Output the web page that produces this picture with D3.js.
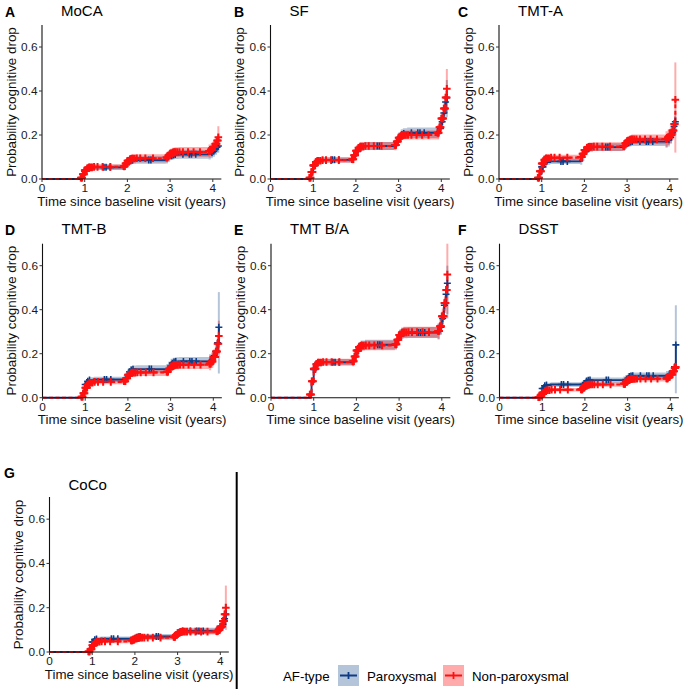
<!DOCTYPE html>
<html><head><meta charset="utf-8">
<script src="https://cdn.jsdelivr.net/npm/d3@7"></script>
<style>body{margin:0;background:#fff}svg{display:block;font-family:"Liberation Sans",Arial,sans-serif}</style>
</head><body><svg id="c" width="687" height="689"></svg>
<script>
// ---------- data ----------
const times = [0, 0.9, 0.95, 1.0, 1.05, 1.1, 1.2, 1.9, 1.95, 2.0, 2.05, 2.1, 2.2, 2.9, 2.95, 3.0, 3.05, 3.1, 3.2, 3.9, 3.95, 4.0, 4.05, 4.1, 4.13];
const stageOf = [0,1,1,1,1,1,1,2,2,2,2,2,2,3,3,3,3,3,3,4,4,4,4,4,4];
const letters = ["A","B","C","D","E","F","G"];
const titles = ["MoCA","SF","TMT-A","TMT-B","TMT B/A","DSST","CoCo"];
const xTicks = [0,1,2,3,4];
const yTicks = [0,0.2,0.4,0.6];
const groups = ["Paroxysmal","Non-paroxysmal"];

const parA = [0,0.004,0.018,0.036,0.047,0.051,0.053,0.056,0.066,0.077,0.083,0.085,0.086,0.09,0.098,0.106,0.109,0.111,0.112,0.114,0.119,0.126,0.135,0.145,0.15];
const nonA = [0,0.006,0.022,0.040,0.049,0.053,0.055,0.058,0.07,0.083,0.09,0.093,0.094,0.098,0.107,0.116,0.12,0.122,0.123,0.127,0.134,0.145,0.16,0.175,0.19];
const parB = [0,0.005,0.03,0.06,0.076,0.083,0.087,0.09,0.105,0.125,0.14,0.147,0.15,0.155,0.17,0.19,0.202,0.207,0.21,0.215,0.23,0.26,0.3,0.35,0.37];
const nonB = [0,0.006,0.032,0.062,0.077,0.083,0.086,0.09,0.108,0.128,0.142,0.148,0.15,0.155,0.17,0.188,0.197,0.2,0.2,0.21,0.235,0.275,0.32,0.37,0.41];
const parC = [0,0.005,0.025,0.055,0.07,0.077,0.08,0.083,0.1,0.125,0.138,0.143,0.145,0.148,0.158,0.165,0.168,0.17,0.17,0.172,0.178,0.19,0.21,0.24,0.26];
const nonC = [0,0.006,0.035,0.07,0.088,0.094,0.097,0.1,0.115,0.132,0.142,0.146,0.147,0.15,0.162,0.172,0.177,0.18,0.18,0.182,0.19,0.2,0.22,0.25,0.36];
const parD = [0,0.005,0.03,0.06,0.075,0.081,0.083,0.086,0.1,0.118,0.126,0.129,0.13,0.133,0.145,0.157,0.162,0.164,0.165,0.168,0.175,0.19,0.21,0.25,0.32];
const nonD = [0,0.004,0.02,0.045,0.06,0.068,0.072,0.075,0.088,0.104,0.111,0.114,0.115,0.118,0.13,0.142,0.147,0.149,0.15,0.155,0.165,0.185,0.21,0.245,0.28];
const parE = [0,0.012,0.07,0.128,0.15,0.158,0.161,0.165,0.185,0.213,0.23,0.238,0.241,0.246,0.264,0.283,0.292,0.295,0.296,0.3,0.32,0.36,0.42,0.47,0.52];
const nonE = [0,0.014,0.075,0.132,0.153,0.16,0.162,0.166,0.187,0.215,0.23,0.236,0.238,0.243,0.263,0.285,0.294,0.297,0.298,0.303,0.325,0.37,0.43,0.49,0.56];
const parF = [0,0.004,0.02,0.042,0.054,0.058,0.06,0.061,0.068,0.076,0.079,0.08,0.08,0.082,0.089,0.096,0.099,0.1,0.1,0.101,0.105,0.11,0.12,0.14,0.24];
const nonF = [0,0.002,0.01,0.022,0.03,0.034,0.036,0.038,0.046,0.055,0.059,0.06,0.06,0.063,0.072,0.08,0.084,0.085,0.086,0.088,0.094,0.105,0.12,0.135,0.14];
const parG = [0,0.004,0.022,0.045,0.055,0.059,0.06,0.061,0.064,0.067,0.069,0.07,0.07,0.072,0.08,0.089,0.093,0.095,0.095,0.097,0.102,0.11,0.125,0.15,0.17];
const nonG = [0,0.002,0.012,0.03,0.042,0.046,0.048,0.052,0.056,0.061,0.064,0.065,0.065,0.068,0.077,0.086,0.09,0.092,0.092,0.094,0.1,0.115,0.14,0.17,0.2];

// CI half-widths per stage [before 1, 1-2, 2-3, 3-4, last rise]
const parHwA = [0,0.012,0.017,0.02,0.025], nonHwA = [0,0.012,0.018,0.022,0.03];
const parHwB = [0,0.012,0.018,0.024,0.03], nonHwB = [0,0.012,0.018,0.02,0.03];
const parHwC = [0,0.012,0.018,0.02,0.03],  nonHwC = [0,0.013,0.02,0.022,0.035];
const parHwD = [0,0.012,0.017,0.02,0.03],  nonHwD = [0,0.011,0.016,0.02,0.03];
const parHwE = [0,0.015,0.022,0.025,0.035], nonHwE = [0,0.015,0.022,0.025,0.035];
const parHwF = [0,0.01,0.012,0.014,0.02],  nonHwF = [0,0.008,0.01,0.012,0.018];
const parHwG = [0,0.01,0.011,0.014,0.02],  nonHwG = [0,0.009,0.011,0.013,0.02];
// CI at last time [low, high]
const parEnd = [[0.12,0.18],[0.28,0.45],[0.2,0.3],[0.11,0.48],[0.36,0.6],[0.02,0.42],[0.12,0.22]];
const nonEnd = [[0.14,0.24],[0.3,0.5],[0.12,0.53],[0.2,0.35],[0.38,0.7],[0.1,0.17],[0.1,0.3]];

const censorPar = [1.0,1.03,1.06,1.1,1.45,1.5,1.6,2.04,2.08,2.12,2.5,2.55,3.04,3.08,3.12,3.3,3.45,3.5,3.6,3.98,4.02,4.06,4.1,4.13];
const censorNon = [0.91,0.925,0.94,0.955,0.97,0.985,1.0,1.015,1.03,1.045,1.06,1.075,1.09,1.1,1.13,1.17,1.22,1.3,1.42,1.6,1.91,1.925,1.94,1.955,1.97,1.985,2.0,2.015,2.03,2.045,2.06,2.075,2.09,2.1,2.13,2.17,2.22,2.3,2.42,2.6,2.91,2.925,2.94,2.955,2.97,2.985,3.0,3.015,3.03,3.045,3.06,3.075,3.09,3.1,3.13,3.17,3.22,3.3,3.42,3.55,3.7,3.91,3.925,3.94,3.955,3.97,3.985,4.0,4.015,4.03,4.045,4.06,4.075,4.09,4.1,4.12,4.13];

// ---------- table built from arrays ----------
const parList = [parA,parB,parC,parD,parE,parF,parG];
const nonList = [nonA,nonB,nonC,nonD,nonE,nonF,nonG];
const parHwList = [parHwA,parHwB,parHwC,parHwD,parHwE,parHwF,parHwG];
const nonHwList = [nonHwA,nonHwB,nonHwC,nonHwD,nonHwE,nonHwF,nonHwG];

// layout
const layout = [
  {x0:42,y0:179,lx:5,ly:17,ty:16},
  {x0:270.5,y0:179,lx:234,ly:17,ty:16},
  {x0:499,y0:179,lx:458,ly:17,ty:16},
  {x0:42.5,y0:397.7,lx:5,ly:235,ty:234},
  {x0:271,y0:397.7,lx:234,ly:235,ty:234},
  {x0:499.5,y0:397.7,lx:458,ly:235,ty:234},
  {x0:49.5,y0:652,lx:4,ly:478,ty:490}
];
const BLUE = "#0e3d87", RED = "#ff1010";
const BLUE_F = "#1f4e8c", RED_F = "#ff0000";

const svg = d3.select("#c");
const tf = "Liberation Sans, Arial, sans-serif";

layout.forEach((L, i) => {
  const x = d3.scaleLinear().domain([0, 4.2]).range([L.x0, L.x0 + 4.2*42.7]);
  const hPx = i === 6 ? 155 : 154;
  const y = d3.scaleLinear().domain([0, 0.7]).range([L.y0, L.y0 - hPx]);
  const g = svg.append("g");

  const groupsData = [
    {est: parList[i], hw: parHwList[i], end: parEnd[i], col: BLUE, fill: BLUE_F, dash: null, cens: censorPar, w: 1.9, m: 3.5, mw: 1.6},
    {est: nonList[i], hw: nonHwList[i], end: nonEnd[i], col: RED, fill: RED_F, dash: "4,2.5", cens: censorNon, w: 2.1, m: 3.8, mw: 2}
  ];

  // ribbons
  groupsData.forEach(G => {
    const pts = times.map((t, k) => ({t, lo: Math.max(0, G.est[k] - G.hw[stageOf[k]]), hi: G.est[k] + G.hw[stageOf[k]]}));
    const area = d3.area().curve(d3.curveStepAfter).x(d => x(d.t)).y0(d => y(d.lo)).y1(d => y(d.hi));
    g.append("path").attr("d", area(pts)).attr("fill", G.fill).attr("fill-opacity", 0.33);
    const tl = times[times.length-1];
    g.append("rect").attr("x", x(tl) - 1).attr("width", 2)
      .attr("y", y(G.end[1])).attr("height", y(G.end[0]) - y(G.end[1]))
      .attr("fill", G.fill).attr("fill-opacity", 0.33);
  });

  // lines
  groupsData.forEach(G => {
    const line = d3.line().curve(d3.curveStepAfter).x((d, k) => x(times[k])).y(d => y(d));
    g.append("path").attr("d", line(G.est)).attr("fill", "none").attr("stroke", G.col)
      .attr("stroke-width", G.w).attr("stroke-dasharray", G.dash);
  });

  // censor marks
  groupsData.forEach(G => {
    G.cens.forEach(t => {
      const k = d3.bisectRight(times, t) - 1;
      const cx = x(t), cy = y(G.est[k]);
      g.append("path").attr("d", `M${cx-G.m},${cy}H${cx+G.m}M${cx},${cy-G.m}V${cy+G.m}`)
        .attr("stroke", G.col).attr("stroke-width", G.mw);
    });
  });

  // axes
  const ax = g.append("g").attr("font-family", tf);
  ax.append("line").attr("x1", x(0)).attr("x2", x(4.2)).attr("y1", L.y0).attr("y2", L.y0)
    .attr("stroke", "#111").attr("stroke-width", 1.1);
  ax.append("line").attr("x1", x(0)).attr("x2", x(0)).attr("y1", L.y0).attr("y2", y(0.7))
    .attr("stroke", "#111").attr("stroke-width", 1.1);
  xTicks.forEach(v => {
    ax.append("line").attr("x1", x(v)).attr("x2", x(v)).attr("y1", L.y0).attr("y2", L.y0 + 3).attr("stroke", "#333");
    ax.append("text").attr("x", x(v)).attr("y", L.y0 + 13).attr("text-anchor", "middle")
      .attr("font-size", 11.8).attr("fill", "#1a1a1a").text(v);
  });
  yTicks.forEach(v => {
    ax.append("line").attr("x1", x(0) - 3).attr("x2", x(0)).attr("y1", y(v)).attr("y2", y(v)).attr("stroke", "#333");
    ax.append("text").attr("x", x(0) - 4.5).attr("y", y(v) + 4).attr("text-anchor", "end")
      .attr("font-size", 11.8).attr("fill", "#1a1a1a").text(d3.format(".1f")(v));
  });
  ax.append("text").attr("x", (x(0) + x(4.2)) / 2).attr("y", L.y0 + 26.5).attr("text-anchor", "middle")
    .attr("font-size", 13.3).attr("fill", "#111").text("Time since baseline visit (years)");
  const ymid = (L.y0 + y(0.7)) / 2;
  ax.append("text").attr("transform", `translate(${x(0) - 26.5},${ymid}) rotate(-90)`).attr("text-anchor", "middle")
    .attr("font-size", 13.4).attr("fill", "#111").text("Probability cognitive drop");

  // titles
  g.append("text").attr("x", L.lx).attr("y", L.ly).attr("font-family", tf).attr("font-weight", "bold")
    .attr("font-size", 14).attr("fill", "#000").text(letters[i]);
  g.append("text").attr("x", x(0) + 19).attr("y", L.ty).attr("font-family", tf)
    .attr("font-size", 15).attr("fill", "#000").text(titles[i]);
});

// divider line
svg.append("line").attr("x1", 236.7).attr("x2", 236.7).attr("y1", 472).attr("y2", 689)
  .attr("stroke", "#000").attr("stroke-width", 2);

// legend
const lg = svg.append("g").attr("font-family", tf).attr("font-size", 13.3);
lg.append("text").attr("x", 283).attr("y", 681).text("AF-type");
const legItems = [
  {label: groups[0], bx: 338, tx: 367, col: BLUE, fill: BLUE_F},
  {label: groups[1], bx: 443, tx: 472, col: RED, fill: RED_F}
];
legItems.forEach(it => {
  lg.append("rect").attr("x", it.bx).attr("y", 665).attr("width", 21).attr("height", 21)
    .attr("fill", it.fill).attr("fill-opacity", 0.33);
  lg.append("path").attr("d", `M${it.bx+2},${675.5}H${it.bx+19}M${it.bx+10.5},${672}V${679}`)
    .attr("stroke", it.col).attr("stroke-width", 1.8);
  lg.append("text").attr("x", it.tx).attr("y", 681).text(it.label);
});
</script></body></html>
